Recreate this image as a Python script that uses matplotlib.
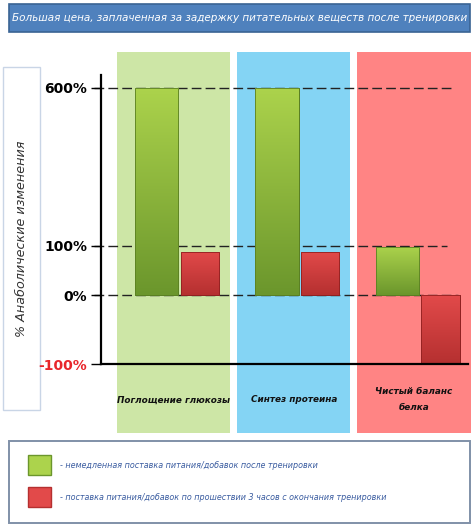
import numpy as np
import matplotlib.pyplot as plt
from matplotlib.patches import Rectangle
from matplotlib.colors import LinearSegmentedColormap
import matplotlib.transforms as mtransforms

# data
categories = ["Поглощение глюкозы", "Синтез протеина", "Чистый баланс\nбелка"]
immediate = [600, 600, 97]
delayed = [88, 88, -100]
ytick_vals = [-100, 0, 100, 600]
ytick_labels = ["-100%", "0%", "100%", "600%"]
dashed_levels = [600, 100, 0]
title = "Большая цена, заплаченная за задержку питательных веществ после тренировки"
ylabel = "% Анаболические изменения"
legend_labels = ["- немедленная поставка питания/добавок после тренировки",
                 "- поставка питания/добавок по прошествии 3 часов с окончания тренировки"]

panel_colors = ["#cde6a6", "#84d4f4", "#ff8484"]
green_top, green_bot = "#acd34c", "#6b962c"
red_top, red_bot = "#e24a4a", "#b53030"

W, H = 474, 527
fig = plt.figure(figsize=(W / 100, H / 100), dpi=100)
fig.patch.set_facecolor("white")


def fx(px):
    return px / W


def fy(py):
    return 1 - py / H


ax = fig.add_axes([fx(101), fy(364), fx(468) - fx(101), fy(75) - fy(364)])
ax.set_facecolor("none")

# broken-looking value axis of the original (piecewise linear)
knots_v = np.array([-1000, -100, 0, 100, 600, 2000])
knots_p = np.array([-618.3, 0, 68.7, 118.3, 276.3, 718.7])


def fwd(v):
    return np.interp(v, knots_v, knots_p)


def inv(p):
    return np.interp(p, knots_p, knots_v)


ax.set_yscale("function", functions=(fwd, inv))
ax.set_ylim(-100, 640)

x = np.arange(len(categories))
ax.set_xlim(-0.603, 2.449)

# background panels behind each group
bt = mtransforms.blended_transform_factory(ax.transData, fig.transFigure)
for i, c in enumerate(panel_colors):
    ax.add_patch(Rectangle((i - 0.47, fy(433)), 0.94, fy(52) - fy(433),
                           transform=bt, facecolor=c, edgecolor="none",
                           clip_on=False, zorder=0))

# dashed guides
x_ends = [2.341, 2.274, 2.366]
for lv, xe in zip(dashed_levels, x_ends):
    ax.plot([-0.661, xe], [lv, lv], color="#222222", lw=1.0,
            dashes=(7, 3), clip_on=False, zorder=1)

g_bars = ax.bar(x - 0.14, immediate, width=0.36, color=green_bot,
                edgecolor="#5a7f22", lw=0.6, zorder=2)
r_bars = ax.bar(x + 0.22, delayed, width=0.32, color=red_bot,
                edgecolor="#8f2020", lw=0.6, zorder=2)

for s in ["top", "right"]:
    ax.spines[s].set_visible(False)
for s in ["left", "bottom"]:
    ax.spines[s].set_linewidth(1.6)
    ax.spines[s].set_color("black")
    ax.spines[s].set_zorder(3)
ax.set_xticks([])
ax.set_yticks(ytick_vals)
ax.set_yticklabels(ytick_labels, fontsize=10, fontweight="bold")
ax.tick_params(axis="y", length=7, width=1, pad=3)
for lab in ax.get_yticklabels():
    if lab.get_text().startswith("-"):
        lab.set_color("#e8262b")

# gradient fill on bars
fig.canvas.draw()
inv_ax = ax.transAxes.inverted()
for bars, ctop, cbot in [(g_bars, green_top, green_bot), (r_bars, red_top, red_bot)]:
    cmap = LinearSegmentedColormap.from_list("g", [cbot, ctop])
    for b in bars:
        bb = b.get_window_extent()
        (x0, y0), (x1, y1) = inv_ax.transform([(bb.x0, bb.y0), (bb.x1, bb.y1)])
        grad = np.linspace(0, 1, 256).reshape(-1, 1)
        im = ax.imshow(grad, cmap=cmap, origin="lower", aspect="auto",
                       extent=(x0, x1, y0, y1), transform=ax.transAxes,
                       zorder=2.5)
        im.set_clip_path(b)
        ax.add_patch(Rectangle((b.get_x(), b.get_y()), b.get_width(), b.get_height(),
                               fill=False, edgecolor=b.get_edgecolor(), lw=0.6,
                               zorder=2.6))
ax.set_xlim(-0.603, 2.449)
ax.set_ylim(-100, 640)

# category labels inside panels
for i, cat in enumerate(categories):
    ax.text(i, fy(400), cat, transform=bt, ha="center", va="center",
            fontsize=6.4, style="italic", fontweight="semibold",
            linespacing=2.0, color="#111111", clip_on=False, zorder=3)

# title bar
fig.patches.append(Rectangle((fx(9), fy(32)), fx(470) - fx(9), fy(4) - fy(32),
                             transform=fig.transFigure, facecolor="#4f81bd",
                             edgecolor="#3a6394", lw=1.2, zorder=-1))
fig.text(fx(239.5), fy(18), title, ha="center", va="center", color="white",
         fontsize=7.5, style="italic")

# y label box
fig.patches.append(Rectangle((fx(3), fy(410)), fx(40) - fx(3), fy(67) - fy(410),
                             transform=fig.transFigure, facecolor="white",
                             edgecolor="#c9d5e6", lw=1.0, zorder=-1))
fig.text(fx(22), fy(239), ylabel, rotation=90, ha="center", va="center",
         fontsize=9.2, style="italic", color="#333333")

# legend box
fig.patches.append(Rectangle((fx(9), fy(523)), fx(470) - fx(9), fy(441) - fy(523),
                             transform=fig.transFigure, facecolor="white",
                             edgecolor="#8090a8", lw=1.4, zorder=-1))
for k, (lab, ctop, cbot) in enumerate(zip(legend_labels, [green_top, red_top],
                                         [green_bot, red_bot])):
    yc = 465 + 32 * k
    fig.patches.append(Rectangle((fx(28), fy(yc + 10)), fx(51) - fx(28), fy(yc - 10) - fy(yc + 10),
                                 transform=fig.transFigure, facecolor=ctop,
                                 edgecolor=cbot, lw=1.0, zorder=1))
    fig.text(fx(60), fy(yc + 1), lab, ha="left", va="center", fontsize=5.8,
             style="italic", color="#3a5ca0")

fig.savefig("out.png", dpi=100)
